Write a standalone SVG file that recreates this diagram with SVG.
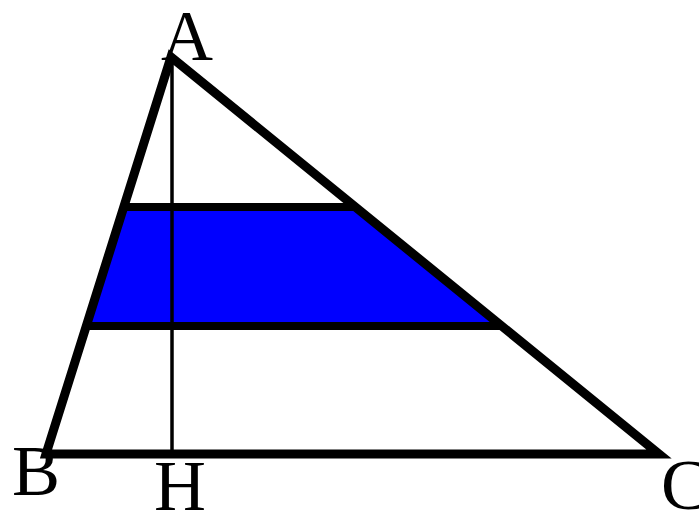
<svg xmlns="http://www.w3.org/2000/svg" width="699" height="512" viewBox="0 0 699 512">
<style>
.edge{fill:none;stroke:#000;stroke-width:9;stroke-linejoin:miter;stroke-miterlimit:10}
.bar{fill:none;stroke:#000;stroke-width:8}
.alt{fill:none;stroke:#000;stroke-width:3.5}
.lbl{font-family:"Liberation Serif","Times New Roman",serif;font-size:72px;fill:#000}
</style>
<rect width="699" height="512" fill="#fff"/>
<g id="trapezoid">
<polygon points="123.7,207 356,207 502,326 86.1,326" fill="#0000ff"/>
</g>
<g id="connectors">
<line class="alt" x1="172" y1="57" x2="172" y2="454"/>
<line class="bar" x1="123.7" y1="207" x2="356" y2="207"/>
<line class="bar" x1="86.1" y1="326" x2="502" y2="326"/>
<path class="edge" d="M171,57 L659,454 L46,454 Z"/>
</g>
<g id="A"><text class="lbl" x="187" y="60" text-anchor="middle">A</text></g>
<g id="B"><text class="lbl" x="36" y="495" text-anchor="middle">B</text></g>
<g id="H"><text class="lbl" x="180" y="510" text-anchor="middle">H</text></g>
<g id="C"><text class="lbl" x="661" y="509">C</text></g>
</svg>
